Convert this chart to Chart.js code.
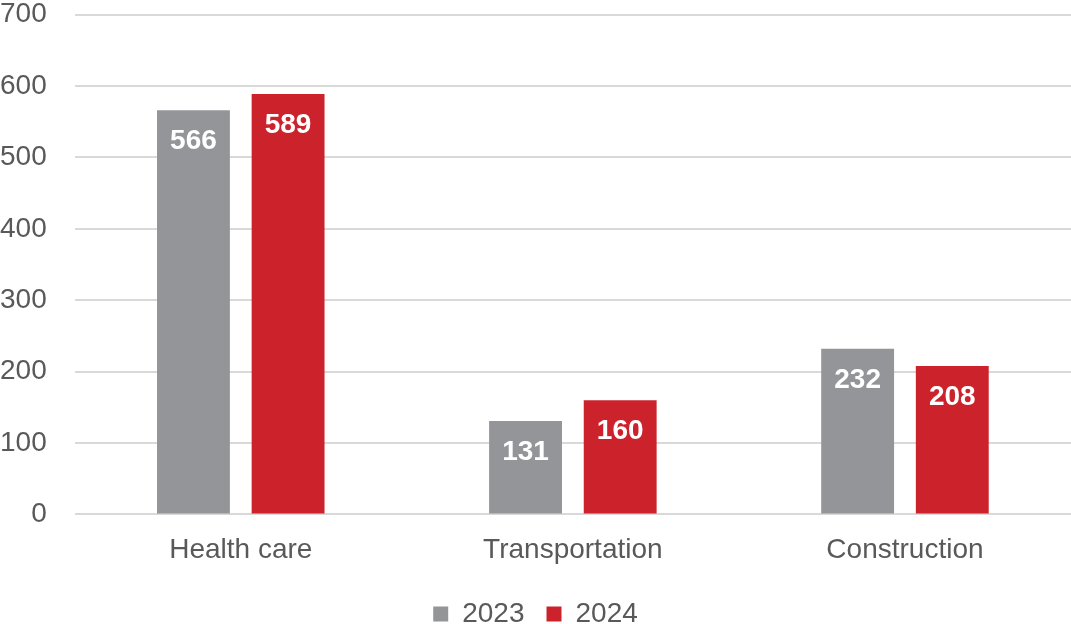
<!DOCTYPE html>
<html>
<head>
<meta charset="utf-8">
<script src="https://cdn.jsdelivr.net/npm/chart.js@4"></script>
<style>
  html, body { margin: 0; padding: 0; background: #fff; }
  #wrap { width: 1071px; height: 624px; }
</style>
</head>
<body>
<div id="wrap"><canvas id="myChart"></canvas></div>
<script>
const categories = ['Health care', 'Transportation', 'Construction'];
const values2023 = [566, 131, 232];
const values2024 = [589, 160, 208];
const yTicks = [0, 100, 200, 300, 400, 500, 600, 700];

const GRAY = '#939598';
const RED = '#cc222b';
const TEXT = '#595959';
const FONT = "'Liberation Sans', Arial, sans-serif";

// white value labels just inside the top of each bar
const barLabels = {
  id: 'barLabels',
  afterDatasetsDraw(chart) {
    const c = chart.ctx;
    c.save();
    c.font = 'bold 28px ' + FONT;
    c.fillStyle = '#fff';
    c.textAlign = 'center';
    c.textBaseline = 'middle';
    chart.data.datasets.forEach((ds, i) => {
      chart.getDatasetMeta(i).data.forEach((bar, j) => {
        c.fillText(ds.data[j], bar.x, bar.y + 31);
      });
    });
    c.restore();
  }
};

const ctx = document.getElementById('myChart').getContext('2d');
const myChart = new Chart(ctx, {
  type: 'bar',
  data: {
    labels: categories,
    datasets: [
      { label: '2023', data: values2023, backgroundColor: GRAY },
      { label: '2024', data: values2024, backgroundColor: RED }
    ]
  },
  options: {
    responsive: true,
    maintainAspectRatio: false,
    animation: false,
    categoryPercentage: 0.57,
    barPercentage: 0.77,
    layout: { padding: { top: 0, right: 0, left: 0, bottom: -14 } },
    plugins: {
      legend: {
        position: 'bottom',
        labels: {
          boxWidth: 15,
          boxHeight: 15,
          padding: 22,
          color: TEXT,
          font: { family: FONT, size: 28 }
        }
      },
      tooltip: { enabled: false }
    },
    scales: {
      x: {
        grid: { display: false },
        border: { display: false },
        ticks: { color: TEXT, padding: 11, font: { family: FONT, size: 28 } }
      },
      y: {
        min: 0,
        max: 700,
        afterBuildTicks: (axis) => { axis.ticks = yTicks.map(v => ({ value: v })); },
        // invisible tick marks keep the gap between labels and gridlines
        grid: { color: '#d9d9d9', lineWidth: 2, drawTicks: true, tickLength: 28, tickColor: 'rgba(0,0,0,0)' },
        border: { display: false },
        ticks: { color: TEXT, padding: 0, font: { family: FONT, size: 28, lineHeight: 1.05 } }
      }
    }
  },
  plugins: [barLabels]
});
</script>
</body>
</html>
